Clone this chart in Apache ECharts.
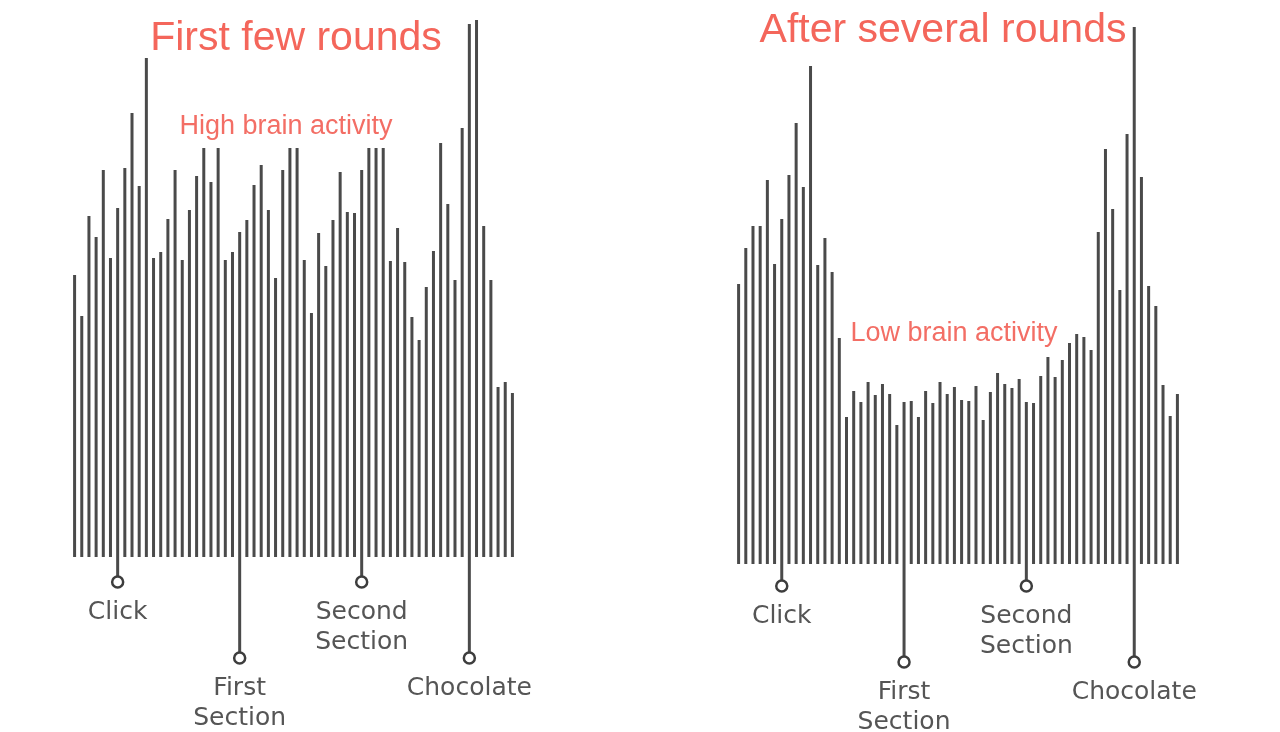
<!DOCTYPE html>
<html>
<head>
<meta charset="utf-8">
<title>Brain activity</title>
<script src="https://cdn.jsdelivr.net/npm/echarts@6/dist/echarts.min.js"></script>
<style>
    html, body { margin: 0; padding: 0; background: #fff; }
    #chart { width: 1280px; height: 732px; }
</style>
</head>
<body>
<div id="chart"></div>
<script>
// 62 time samples per panel
const samples = Array.from({ length: 62 }, (_, i) => String(i + 1));

// activity per sample, first few rounds
const firstRounds = [
    282, 241, 341, 320, 387, 299, 349, 389, 444, 371,
    499, 299, 305, 338, 387, 297, 347, 381, 409, 375,
    409, 297, 305, 325, 337, 372, 392, 347, 279, 387,
    409, 409, 297, 244, 324, 291, 337, 385, 345, 344,
    387, 409, 409, 409, 296, 329, 295, 240, 217, 270,
    306, 414, 353, 277, 429, 533, 537, 331, 277, 170,
    175, 164
];

// activity per sample, after several rounds
const laterRounds = [
    280, 316, 338, 338, 384, 300, 345, 389, 441, 377,
    498, 299, 326, 292, 226, 147, 173, 162, 182, 169,
    180, 170, 139, 162, 163, 147, 173, 161, 182, 170,
    177, 164, 163, 178, 144, 172, 191, 180, 176, 185,
    162, 161, 188, 207, 187, 204, 221, 230, 227, 214,
    332, 415, 355, 274, 430, 537, 387, 278, 258, 179,
    148, 170
];

// event markers under the bars
const eventIndex = [6, 23, 40, 55];
const eventNames = ['Click', 'First\nSection', 'Second\nSection', 'Chocolate'];
const eventDepthFirst = [-25, -101, -25, -101];
const eventDepthLater = [-22, -98, -22, -98];

const barColor = '#4a4a4a';
const red = '#f4665b';

var myChart = echarts.init(document.getElementById('chart'));

// stems from the baseline down to the marker circle
function stems(depths) {
    const arr = samples.map(() => null);
    eventIndex.forEach((idx, k) => { arr[idx] = depths[k]; });
    return arr;
}

function markers(depths) {
    return eventIndex.map((idx, k) => ({
        name: eventNames[k],
        value: [idx, depths[k]]
    }));
}

function panelSeries(g, values, depths) {
    return [
        {
            type: 'bar',
            xAxisIndex: g,
            yAxisIndex: g,
            data: values,
            barWidth: 3,
            itemStyle: { color: barColor },
            silent: true
        },
        {
            type: 'bar',
            xAxisIndex: g,
            yAxisIndex: g,
            data: stems(depths),
            barWidth: 3,
            barGap: '-100%',
            itemStyle: { color: barColor },
            silent: true
        },
        {
            type: 'scatter',
            xAxisIndex: g,
            yAxisIndex: g,
            data: markers(depths),
            symbol: 'circle',
            symbolSize: 11,
            itemStyle: { color: '#fff', borderColor: '#3d3d3d', borderWidth: 2.5, opacity: 1 },
            label: {
                show: true,
                position: 'bottom',
                distance: 9,
                formatter: '{b}',
                fontFamily: 'DejaVu Sans',
                fontSize: 25,
                lineHeight: 30,
                color: '#555',
                align: 'center'
            },
            z: 5,
            silent: true
        }
    ];
}

var option = {
    backgroundColor: '#fff',
    animation: false,
    title: [
        {
            text: 'First few rounds',
            left: 291, top: 13, textAlign: 'center',
            textStyle: { fontFamily: 'Liberation Sans', fontSize: 41, fontWeight: 'normal', color: red }
        },
        {
            text: 'After several rounds',
            left: 938, top: 5, textAlign: 'center',
            textStyle: { fontFamily: 'Liberation Sans', fontSize: 41, fontWeight: 'normal', color: red }
        },
        {
            text: 'High brain activity',
            left: 281, top: 108, textAlign: 'center',
            textStyle: { fontFamily: 'Liberation Sans', fontSize: 27, fontWeight: 'normal', color: '#f36e65' }
        },
        {
            text: 'Low brain activity',
            left: 949, top: 315, textAlign: 'center',
            textStyle: { fontFamily: 'Liberation Sans', fontSize: 27, fontWeight: 'normal', color: '#f36e65' }
        }
    ],
    grid: [
        { left: 71, width: 445, top: 17, height: 650 },
        { left: 735, width: 446, top: 24, height: 650 }
    ],
    xAxis: [0, 1].map(g => ({
        type: 'category',
        gridIndex: g,
        data: samples,
        show: false
    })),
    yAxis: [0, 1].map(g => ({
        type: 'value',
        gridIndex: g,
        min: -110,
        max: 540,
        show: false
    })),
    series: [].concat(
        panelSeries(0, firstRounds, eventDepthFirst),
        panelSeries(1, laterRounds, eventDepthLater)
    )
};

myChart.setOption(option);
</script>
</body>
</html>
